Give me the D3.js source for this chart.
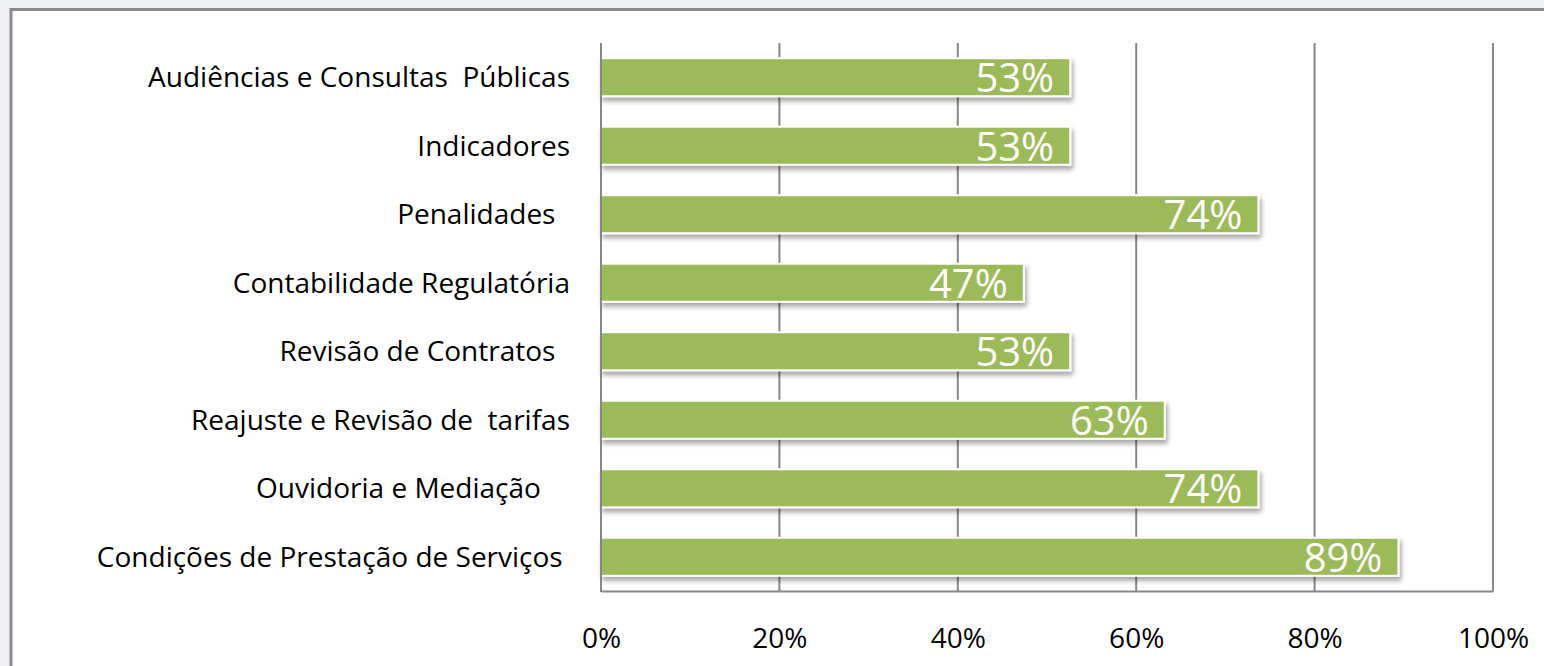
<!DOCTYPE html>
<html>
<head>
<meta charset="utf-8">
<script src="https://cdn.jsdelivr.net/npm/d3@7"></script>
<style>
  body { margin: 0; background: #eef0f3; }
  svg { display: block; }
</style>
</head>
<body>
<div id="chart"></div>
<script>
// categories, top to bottom
const categories = [
  "Audiências e Consultas  Públicas",
  "Indicadores",
  "Penalidades  ",
  "Contabilidade Regulatória",
  "Revisão de Contratos  ",
  "Reajuste e Revisão de  tarifas",
  "Ouvidoria e Mediação    ",
  "Condições de Prestação de Serviços "
];
// share of respondents, percent
const values = [52.6, 52.6, 73.7, 47.4, 52.6, 63.2, 73.7, 89.4];
const ticks = [0, 20, 40, 60, 80, 100];

const width = 1544;
const height = 666;
const margin = { top: 43, right: 51, bottom: 75, left: 601 };
const font = "'Open Sans', sans-serif";

const svg = d3
  .select("#chart")
  .append("svg")
  .attr("width", width)
  .attr("height", height);

// drop shadow for the bars
const defs = svg.append("defs");
defs.append("filter")
  .attr("id", "shadow")
  .attr("x", "-5%").attr("y", "-30%")
  .attr("width", "110%").attr("height", "170%")
  .append("feDropShadow")
  .attr("dx", 2)
  .attr("dy", 4)
  .attr("stdDeviation", 2.5)
  .attr("flood-color", "#000")
  .attr("flood-opacity", 0.35);

// white chart panel with grey frame
svg.append("rect")
  .attr("x", 11)
  .attr("y", 9.5)
  .attr("width", width + 20)
  .attr("height", height + 20)
  .attr("fill", "#fff")
  .attr("stroke", "#8a8a8a")
  .attr("stroke-width", 3);

const x = d3.scaleLinear()
  .domain([0, 100])
  .range([margin.left, width - margin.right]);

const y = d3.scaleBand()
  .domain(categories)
  .range([margin.top, height - margin.bottom])
  .paddingInner(0.445)
  .paddingOuter(0.222);

// vertical gridlines
svg.append("g")
  .selectAll("line")
  .data(ticks.slice(1))
  .enter()
  .append("line")
  .attr("x1", (d) => x(d))
  .attr("x2", (d) => x(d))
  .attr("y1", margin.top)
  .attr("y2", height - margin.bottom)
  .attr("stroke", "#878787")
  .attr("stroke-width", 2);

// x axis
const xAxis = svg.append("g")
  .attr("transform", `translate(0,${height - margin.bottom})`)
  .call(d3.axisBottom(x).tickValues(ticks).tickFormat((d) => d + "%").tickSize(0).tickPadding(37));
xAxis.select(".domain").attr("stroke", "#878787").attr("stroke-width", 2);
xAxis.selectAll("text")
  .attr("font-family", font)
  .attr("font-size", 28)
  .attr("fill", "#000");

// bars
svg.append("g")
  .selectAll("rect")
  .data(values)
  .enter()
  .append("rect")
  .attr("x", x(0))
  .attr("y", (d, i) => y(categories[i]))
  .attr("width", (d) => x(d) - x(0))
  .attr("height", y.bandwidth())
  .attr("fill", "#9bbb59")
  .attr("stroke", "#fff")
  .attr("stroke-width", 2)
  .attr("filter", "url(#shadow)");

// y axis line on top of bars
svg.append("line")
  .attr("x1", x(0))
  .attr("x2", x(0))
  .attr("y1", margin.top)
  .attr("y2", height - margin.bottom + 1)
  .attr("stroke", "#878787")
  .attr("stroke-width", 2);

// category labels
svg.append("g")
  .selectAll("text")
  .data(categories)
  .enter()
  .append("text")
  .attr("x", margin.left - 31)
  .attr("y", (d) => y(d) + y.bandwidth() / 2)
  .attr("dy", "0.36em")
  .attr("text-anchor", "end")
  .style("white-space", "pre")
  .attr("font-family", font)
  .attr("font-size", 28)
  .attr("fill", "#000")
  .text((d) => d);

// value labels inside the bars
svg.append("g")
  .selectAll("text")
  .data(values)
  .enter()
  .append("text")
  .attr("x", (d) => x(d) - 16)
  .attr("y", (d, i) => y(categories[i]) + y.bandwidth() / 2)
  .attr("dy", "0.38em")
  .attr("text-anchor", "end")
  .attr("font-family", font)
  .attr("font-size", 40)
  .attr("fill", "#fff")
  .text((d) => Math.round(d) + "%");
</script>
</body>
</html>
